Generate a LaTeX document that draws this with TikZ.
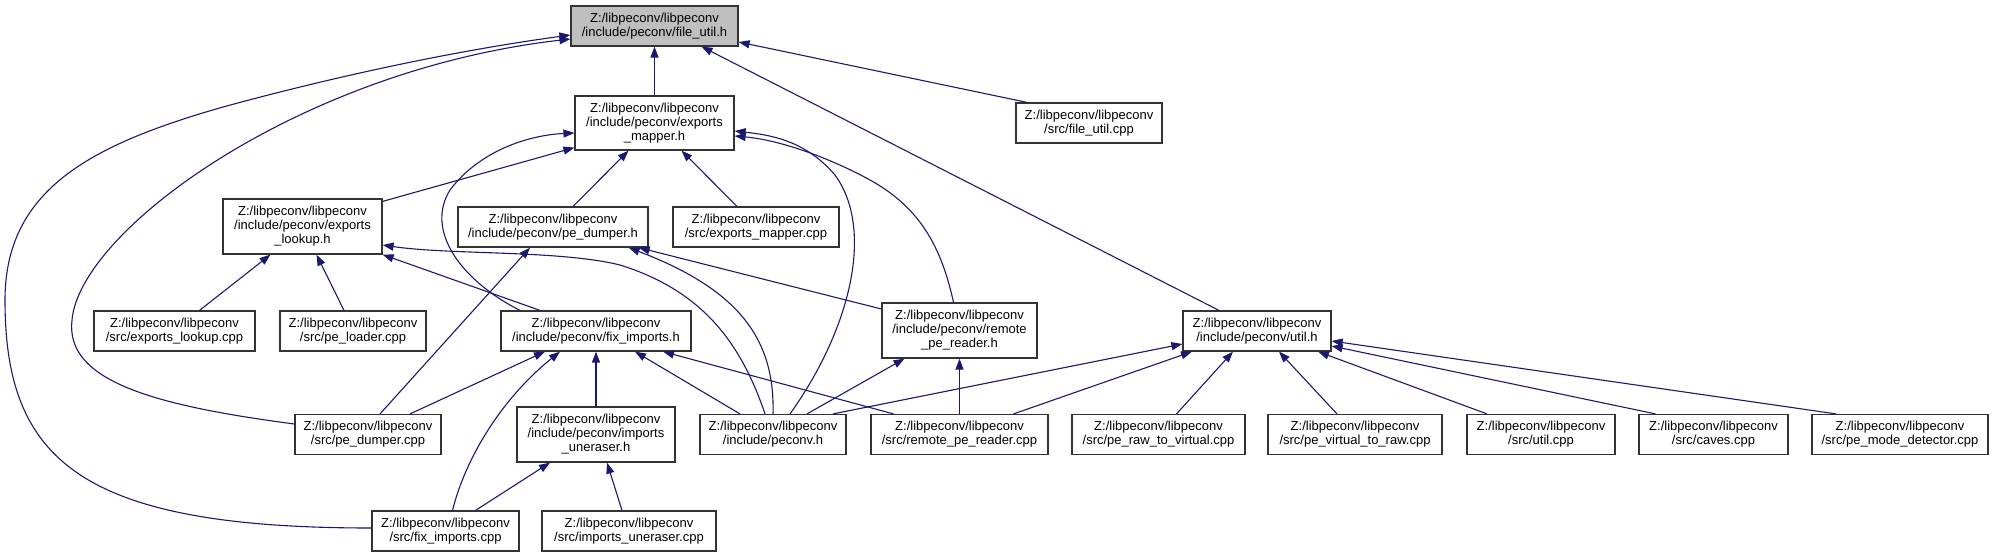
\documentclass[tikz,border=0pt]{standalone}
\usepackage{fontspec}
\setmainfont{Liberation Sans}
\usetikzlibrary{arrows.meta}
\definecolor{navy}{HTML}{191970}
\definecolor{boxgray}{HTML}{BFBFBF}
\newcommand{\zl}{Z:/libpeconv/libpeconv\\}

\begin{document}
\begin{tikzpicture}[x=1pt,y=-1pt,
    file/.style={draw=black!80,line width=1.2pt,fill=white,align=center,inner sep=2pt,
      minimum height=40pt,font=\fontsize{13}{14}\selectfont},
    dep/.style={navy,line width=1.1pt,-{Triangle[length=11pt,width=8pt]}}]
  \useasboundingbox (0,0) rectangle (1993,557);
  % headers and sources
  \node[file,fill=boxgray,minimum width=167pt] (fu) at (654.5,26) {\zl/include/peconv/file\_util.h};
  \node[file,minimum width=159pt,minimum height=54pt] (em) at (654.5,123) {\zl/include/peconv/exports\\\_mapper.h};
  \node[file,minimum width=146pt] (fuc) at (1089,123) {\zl/src/file\_util.cpp};
  \node[file,minimum width=159pt,minimum height=55pt] (el) at (302.5,226.5) {\zl/include/peconv/exports\\\_lookup.h};
  \node[file,minimum width=190pt] (pdh) at (553,227) {\zl/include/peconv/pe\_dumper.h};
  \node[file,minimum width=166pt] (emc) at (756,227) {\zl/src/exports\_mapper.cpp};
  \node[file,minimum width=161pt] (elc) at (174.5,331) {\zl/src/exports\_lookup.cpp};
  \node[file,minimum width=146pt] (plc) at (353,331) {\zl/src/pe\_loader.cpp};
  \node[file,minimum width=190pt] (fih) at (596,331) {\zl/include/peconv/fix\_imports.h};
  \node[file,minimum width=155pt,minimum height=55pt] (rprh) at (959.5,330.5) {\zl/include/peconv/remote\\\_pe\_reader.h};
  \node[file,minimum width=148pt] (uh) at (1257,331) {\zl/include/peconv/util.h};
  \node[file,minimum width=146pt] (pdc) at (368,434.5) {\zl/src/pe\_dumper.cpp};
  \node[file,minimum width=158pt,minimum height=55pt] (iuh) at (596,434.5) {\zl/include/peconv/imports\\\_uneraser.h};
  \node[file,minimum width=146pt] (pch) at (773,434.5) {\zl/include/peconv.h};
  \node[file,minimum width=177pt] (rprc) at (959.5,434.5) {\zl/src/remote\_pe\_reader.cpp};
  \node[file,minimum width=173pt] (prv) at (1158.5,434.5) {\zl/src/pe\_raw\_to\_virtual.cpp};
  \node[file,minimum width=174pt] (pvr) at (1355,434.5) {\zl/src/pe\_virtual\_to\_raw.cpp};
  \node[file,minimum width=148pt] (uc) at (1541,434.5) {\zl/src/util.cpp};
  \node[file,minimum width=149pt] (cc) at (1713.5,434.5) {\zl/src/caves.cpp};
  \node[file,minimum width=176pt] (pmd) at (1900,434.5) {\zl/src/pe\_mode\_detector.cpp};
  \node[file,minimum width=147pt] (fic) at (445.5,531) {\zl/src/fix\_imports.cpp};
  \node[file,minimum width=174pt] (iuc) at (629,531) {\zl/src/imports\_uneraser.cpp};
  % file_util.h
  \draw[dep] (em) -- (fu);
  \draw[dep] ([xshift=-62pt]fuc.north) -- ([yshift=-16pt]fu.east);
  \draw[dep] ([xshift=-38pt]uh.north) -- ([xshift=47pt]fu.south);
  \draw[dep] ([yshift=10.5pt]pdc.west) .. controls (150,405) and (65,380) .. (72,320)
    .. controls (80,230) and (300,70) .. ([yshift=-13pt]fu.west);
  \draw[dep] ([yshift=3pt]fic.west) .. controls (80,528) and (5,460) .. (5,300)
    .. controls (5,190) and (90,145) .. (223,107) .. controls (340,75) and (460,50) .. ([yshift=-9pt]fu.west);
  % exports_mapper.h
  \draw[dep] ([yshift=-3pt]el.north east) -- ([yshift=3pt]em.south west);
  \draw[dep] ([xshift=20pt]pdh.north) -- ([xshift=-26pt]em.south);
  \draw[dep] ([xshift=-19pt]emc.north) -- ([xshift=27pt]em.south);
  \draw[dep] ([xshift=-76pt]fih.north) .. controls (460,280) and (425,230) .. (450,190)
    .. controls (480,150) and (530,135) .. ([yshift=-10pt]em.west);
  \draw[dep] ([xshift=17pt]pch.north) .. controls (850,330) and (875,230) .. (835,175)
    .. controls (805,140) and (770,135) .. ([yshift=-8pt]em.east);
  \draw[dep] ([xshift=-6pt]rprh.north) .. controls (940,240) and (915,205) .. (870,180)
    .. controls (830,158) and (780,140) .. ([yshift=-13pt]em.east);
  % exports_lookup.h
  \draw[dep] ([xshift=25pt]elc.north) -- ([xshift=-32pt]el.south);
  \draw[dep] ([xshift=-9pt]plc.north) -- ([xshift=14pt]el.south);
  \draw[dep] ([xshift=-56pt]fih.north) -- (el.south east);
  \draw[dep] ([xshift=-8pt]pch.north) .. controls (740,340) and (700,290) .. (620,265)
    .. controls (560,250) and (450,255) .. ([yshift=-18.5pt]el.east);
  % pe_dumper.h
  \draw[dep] ([xshift=12pt]pdc.north) -- ([xshift=-23pt]pdh.south);
  \draw[dep] (pch.north) .. controls (775,340) and (740,290) .. ([xshift=-20pt]pdh.south east);
  \draw[dep] ([yshift=21.5pt]rprh.west) -- ([xshift=-10pt]pdh.south east);
  % fix_imports.h
  \draw[dep] ([xshift=42pt]pdc.north) -- ([xshift=-51pt]fih.south);
  \draw[dep] ([xshift=7pt]fic.north) .. controls (465,460) and (500,400) .. ([xshift=-36pt]fih.south);
  \draw[dep] (iuh) -- (fih);
  \draw[dep] ([xshift=-33pt]pch.north) -- ([xshift=39pt]fih.south);
  \draw[dep] ([xshift=-66pt]rprc.north) -- ([xshift=67pt]fih.south);
  % imports_uneraser.h
  \draw[dep] ([xshift=30pt]fic.north) -- ([xshift=-46pt]iuh.south);
  \draw[dep] ([xshift=-7pt]iuc.north) -- ([xshift=11pt]iuh.south);
  % remote_pe_reader.h
  \draw[dep] ([xshift=34pt]pch.north) -- ([xshift=-55pt]rprh.south);
  \draw[dep] (rprc) -- (rprh);
  % util.h
  \draw[dep] ([xshift=60pt]pch.north) -- ([yshift=-13pt]uh.west);
  \foreach \s/\a/\b in {rprc/54/-65, prv/18/-24, pvr/-18/22, uc/-54/61}
    \draw[dep] ([xshift=\a pt]\s.north) -- ([xshift=\b pt]uh.south);
  \draw[dep] ([xshift=-58pt]cc.north) -- ([yshift=-15pt]uh.east);
  \draw[dep] ([xshift=-64pt]pmd.north) -- ([yshift=-10pt]uh.east);
\end{tikzpicture}
\end{document}
